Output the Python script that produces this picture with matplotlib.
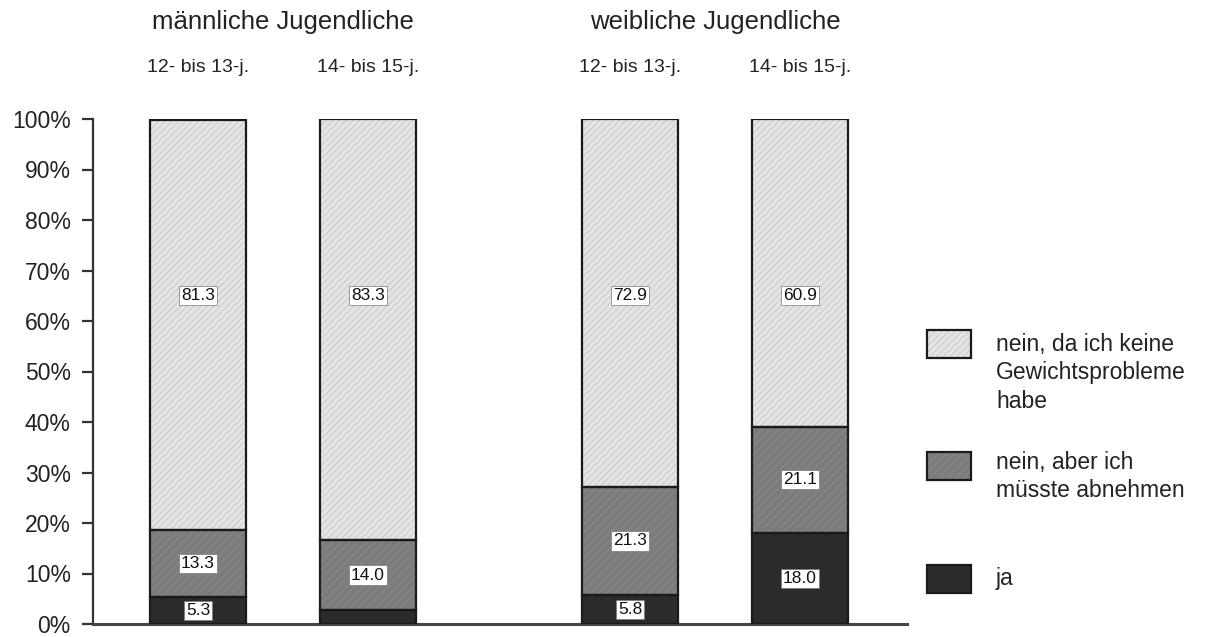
import matplotlib
matplotlib.use("Agg")
import matplotlib.pyplot as plt
from matplotlib.patches import Rectangle
from matplotlib.transforms import blended_transform_factory
import numpy as np

plt.rcParams['font.family'] = ['Liberation Sans', 'DejaVu Sans']
plt.rcParams['hatch.linewidth'] = 0.7

# ---- data ----
groups = ["männliche Jugendliche", "weibliche Jugendliche"]
age_labels = ["12- bis 13-j.", "14- bis 15-j.", "12- bis 13-j.", "14- bis 15-j."]
ja = [5.3, 2.7, 5.8, 18.0]
abnehmen = [13.3, 14.0, 21.3, 21.1]
keine = [81.3, 83.3, 72.9, 60.9]
series_names = ["ja", "nein, aber ich\nmüsste abnehmen",
                "nein, da ich keine\nGewichtsprobleme\nhabe"]
yticks = [0, 10, 20, 30, 40, 50, 60, 70, 80, 90, 100]

# ---- style ----
face = ["#2b2b2b", "#7c7c7c", "#e4e4e4"]
hatchcol = ["#2b2b2b", "#8a8a8a", "#c8c8c8"]
hatches = [None, "////", "/////"]
TOP_LABEL_Y = 65  # the source prints all top-segment labels at one height

W, H = 1207, 637
fig = plt.figure(figsize=(W / 100, H / 100), dpi=100)
ax = fig.add_axes([93 / W, 1 - 624 / H, (907 - 93) / W, (624 - 119) / H])

x = np.array([0, 1, 2.541, 3.541])
width = 0.565
series = [ja, abnehmen, keine]
bottom = np.zeros(4)
for i, vals in enumerate(series):
    vals = np.array(vals)
    ax.bar(x, vals, width, bottom=bottom, color=face[i], edgecolor=hatchcol[i],
           hatch=hatches[i], linewidth=0, zorder=2)
    ax.bar(x, vals, width, bottom=bottom, fill=False, edgecolor="#1a1a1a",
           linewidth=1.6, zorder=3)
    for xi, b, v in zip(x, bottom, vals):
        if v >= 5:
            ypos = TOP_LABEL_Y if i == len(series) - 1 else b + v / 2
            ax.text(xi, ypos, f"{v:.1f}", ha="center", va="center",
                    fontsize=12.5, color="#111111", zorder=4,
                    bbox=dict(boxstyle="square,pad=0.12", facecolor="white",
                              edgecolor="#777777", linewidth=0.5))
    bottom = bottom + vals

ax.set_xlim(-0.618, 4.171)
ax.set_ylim(0, 100)
ax.set_yticks(yticks)
ax.set_yticklabels([f"{t}%" for t in yticks], fontsize=16.5, color="#222222")
ax.set_xticks([])
ax.tick_params(axis="y", direction="out", length=8, width=1.6, pad=8,
               color="#333333")
for s in ["top", "right"]:
    ax.spines[s].set_visible(False)
ax.spines["left"].set_linewidth(1.6)
ax.spines["left"].set_color("#333333")
ax.spines["bottom"].set_linewidth(2.2)
ax.spines["bottom"].set_color("#444444")

# headers
tr = blended_transform_factory(ax.transData, fig.transFigure)
ax.text((x[0] + x[1]) / 2, 1 - 22 / H, groups[0], transform=tr, ha="center",
        va="center", fontsize=18.5, color="#222222")
ax.text((x[2] + x[3]) / 2, 1 - 22 / H, groups[1], transform=tr, ha="center",
        va="center", fontsize=18.5, color="#222222")
for xi, lab in zip(x, age_labels):
    ax.text(xi, 1 - 67 / H, lab, transform=tr, ha="center", va="center",
            fontsize=14, color="#222222")

# legend (manual)
leg = [(2, 330, 345), (1, 452, 463), (0, 565, 579)]
for idx, ytop, ytext in leg:
    r = Rectangle((927 / W, 1 - (ytop + 28) / H), 44 / W, 28 / H,
                  transform=fig.transFigure, facecolor=face[idx],
                  edgecolor=hatchcol[idx], hatch=hatches[idx], linewidth=0)
    fig.add_artist(r)
    r2 = Rectangle((927 / W, 1 - (ytop + 28) / H), 44 / W, 28 / H,
                   transform=fig.transFigure, fill=False,
                   edgecolor="#1a1a1a", linewidth=1.6)
    fig.add_artist(r2)
    fig.text(996 / W, 1 - (ytext - 12) / H, series_names[idx], ha="left",
             va="top", fontsize=16.5, linespacing=1.3, color="#222222")

fig.savefig("out.png", dpi=100)
